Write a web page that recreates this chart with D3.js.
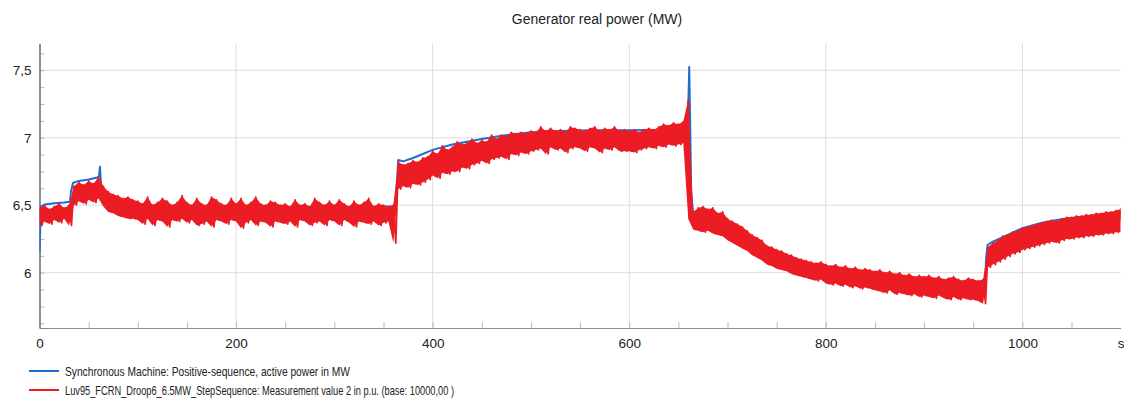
<html>
<head>
<style>
    body { margin: 0; background: #fff; }
    .title { font-family: "Liberation Sans", Arial, sans-serif; font-size: 14px; fill: #222; }
    .axis text { font-family: "Liberation Sans", Arial, sans-serif; font-size: 13.5px; fill: #222; }
    .grid line { stroke: #dcdcdc; stroke-width: 1; }
    .legend text { font-family: "Liberation Sans Narrow", "Arial Narrow", "Liberation Sans", sans-serif; font-size: 13px; fill: #222; }
</style>
</head>
<body>
<svg id="chart" width="1124" height="399"></svg>
<script src="https://d3js.org/d3.v7.min.js"></script>
<script>
// ---- data ----
// blue: Synchronous Machine active power (MW)
const blueTime  = [0, 1.5, 5, 15, 25, 31, 32, 34, 40, 50, 59, 60.5, 61.5, 62.5, 65, 70, 80, 90, 100, 150, 200, 250, 300, 350, 361,
                   363, 365, 370, 380, 400, 420, 435, 450, 470, 500, 530, 560, 600, 640, 659, 660, 661, 662, 663, 665, 670,
                   700, 750, 800, 850, 900, 960, 962, 963, 964.5, 970, 985, 1000, 1020, 1035, 1050, 1070, 1100]
const blueValue = [6.15, 6.49, 6.505, 6.515, 6.52, 6.525, 6.6, 6.665, 6.68, 6.69, 6.705, 6.715, 6.785, 6.66, 6.6, 6.57, 6.53, 6.51, 6.5, 6.49, 6.49, 6.485, 6.485, 6.49, 6.49,
                   6.6, 6.835, 6.825, 6.85, 6.91, 6.95, 6.97, 6.99, 7.015, 7.04, 7.05, 7.055, 7.055, 7.06, 7.07, 7.2, 7.525, 7.1, 6.6, 6.44, 6.43,
                   6.33, 6.15, 6.03, 5.97, 5.93, 5.9, 5.88, 6.1, 6.205, 6.23, 6.28, 6.33, 6.37, 6.39, 6.405, 6.42, 6.44]

// red: measurement value 2, noisy -> per 5 s bin: high and low of the trace
const redBinStep = 5
const redHigh = [
    6.48, 6.50, 6.47, 6.49, 6.51, 6.48, 6.50, 6.64, 6.67, 6.65,
    6.68, 6.66, 6.71, 6.64, 6.60, 6.58, 6.57, 6.55, 6.56, 6.54,
    6.53, 6.51, 6.56, 6.50, 6.52, 6.55, 6.53, 6.50, 6.52, 6.57,
    6.52, 6.50, 6.55, 6.51, 6.50, 6.56, 6.54, 6.51, 6.50, 6.55,
    6.51, 6.55, 6.50, 6.52, 6.56, 6.51, 6.50, 6.53, 6.52, 6.50,
    6.51, 6.49, 6.54, 6.50, 6.51, 6.49, 6.55, 6.52, 6.50, 6.53,
    6.50, 6.54, 6.51, 6.49, 6.53, 6.50, 6.52, 6.55, 6.49, 6.51,
    6.50, 6.49, 6.50, 6.82, 6.80, 6.81, 6.83, 6.82, 6.85, 6.86,
    6.90, 6.88, 6.94, 6.91, 6.93, 6.97, 6.95, 6.96, 6.99, 6.96,
    6.98, 6.97, 7.02, 6.99, 7.02, 7.01, 7.04, 7.03, 7.04, 7.03,
    7.05, 7.04, 7.08, 7.05, 7.07, 7.05, 7.06, 7.04, 7.08, 7.07,
    7.06, 7.05, 7.07, 7.08, 7.05, 7.07, 7.06, 7.08, 7.05, 7.06,
    7.05, 7.06, 7.04, 7.06, 7.07, 7.06, 7.08, 7.10, 7.09, 7.11,
    7.10, 7.12, 7.28, 6.45, 6.48, 6.49, 6.47, 6.48, 6.44, 6.45,
    6.40, 6.38, 6.36, 6.34, 6.31, 6.28, 6.26, 6.24, 6.20, 6.19,
    6.17, 6.16, 6.14, 6.13, 6.11, 6.10, 6.09, 6.08, 6.07, 6.08,
    6.06, 6.05, 6.06, 6.04, 6.05, 6.03, 6.04, 6.02, 6.03, 6.02,
    6.01, 6.02, 6.00, 6.01, 5.99, 6.00, 5.98, 5.99, 5.97, 5.98,
    5.97, 5.98, 5.96, 5.97, 5.95, 5.96, 5.97, 5.95, 5.94, 5.96,
    5.95, 5.94, 5.95, 6.19, 6.22, 6.24, 6.27, 6.28, 6.30, 6.31,
    6.33, 6.34, 6.35, 6.36, 6.37, 6.38, 6.39, 6.38, 6.40, 6.41,
    6.41, 6.42, 6.42, 6.43, 6.43, 6.44, 6.44, 6.45, 6.45, 6.46,
    6.47]
const redLow = [
    6.35, 6.38, 6.36, 6.39, 6.37, 6.40, 6.35, 6.50, 6.53, 6.51,
    6.54, 6.52, 6.55, 6.49, 6.45, 6.44, 6.42, 6.41, 6.40, 6.40,
    6.39, 6.36, 6.40, 6.35, 6.39, 6.38, 6.34, 6.39, 6.38, 6.40,
    6.37, 6.39, 6.35, 6.36, 6.38, 6.34, 6.39, 6.38, 6.36, 6.39,
    6.38, 6.33, 6.37, 6.39, 6.35, 6.38, 6.37, 6.34, 6.38, 6.37,
    6.36, 6.38, 6.34, 6.39, 6.38, 6.35, 6.37, 6.38, 6.35, 6.39,
    6.38, 6.35, 6.39, 6.37, 6.34, 6.38, 6.37, 6.36, 6.38, 6.35,
    6.37, 6.38, 6.22, 6.62, 6.64, 6.63, 6.66, 6.65, 6.67, 6.69,
    6.72, 6.70, 6.74, 6.73, 6.75, 6.75, 6.78, 6.77, 6.80, 6.81,
    6.83, 6.81, 6.84, 6.85, 6.86, 6.84, 6.88, 6.87, 6.89, 6.88,
    6.90, 6.91, 6.92, 6.88, 6.93, 6.91, 6.92, 6.89, 6.92, 6.93,
    6.92, 6.90, 6.93, 6.92, 6.89, 6.92, 6.91, 6.93, 6.90, 6.90,
    6.90, 6.89, 6.91, 6.92, 6.93, 6.92, 6.94, 6.93, 6.95, 6.94,
    6.95, 6.96, 6.40, 6.32, 6.31, 6.30, 6.31, 6.29, 6.28, 6.27,
    6.24, 6.22, 6.20, 6.18, 6.16, 6.13, 6.11, 6.09, 6.06, 6.05,
    6.03, 6.02, 6.01, 5.99, 5.98, 5.97, 5.96, 5.95, 5.94, 5.95,
    5.92, 5.91, 5.92, 5.90, 5.91, 5.89, 5.90, 5.88, 5.89, 5.88,
    5.87, 5.86, 5.85, 5.87, 5.84, 5.85, 5.84, 5.83, 5.84, 5.82,
    5.83, 5.82, 5.81, 5.83, 5.81, 5.80, 5.82, 5.80, 5.81, 5.80,
    5.80, 5.79, 5.77, 6.04, 6.06, 6.08, 6.10, 6.12, 6.14, 6.15,
    6.17, 6.18, 6.19, 6.20, 6.21, 6.22, 6.23, 6.22, 6.24, 6.25,
    6.25, 6.26, 6.26, 6.27, 6.27, 6.28, 6.28, 6.29, 6.29, 6.30,
    6.30]

const xTickMajor = [0, 200, 400, 600, 800, 1000, 1100]
const yTickMajor = [6, 6.5, 7, 7.5]
const titleText = "Generator real power (MW)"
const legendNames = ["Synchronous Machine: Positive-sequence, active power in MW",
                     "Luv95_FCRN_Droop6_6.5MW_StepSequence: Measurement value 2 in p.u. (base: 10000,00 )"]
const seriesColors = ["#1d6dcf", "#ec1c24"]

// ---- layout ----
let plotLeft = 39.5, plotRight = 1120.7, plotTop = 43.3, plotBottom = 328

let svg = d3.select("#chart")

let xScale = d3.scaleLinear().domain([0, 1100]).range([plotLeft, plotRight])
let yScale = d3.scaleLinear().domain([5.59, 7.7]).range([plotBottom, plotTop])

svg.append("text")
    .attr("class", "title")
    .attr("x", 597)
    .attr("y", 24)
    .attr("text-anchor", "middle")
    .text(titleText)

// gridlines
let grid = svg.append("g").attr("class", "grid")
grid.selectAll(".gx")
    .data(xTickMajor.filter(d => d > 0 && d < 1100))
    .enter().append("line")
    .attr("x1", d => xScale(d)).attr("x2", d => xScale(d))
    .attr("y1", plotTop).attr("y2", plotBottom)
grid.selectAll(".gy")
    .data(yTickMajor)
    .enter().append("line")
    .attr("x1", plotLeft).attr("x2", plotRight)
    .attr("y1", d => yScale(d)).attr("y2", d => yScale(d))

// minor ticks (inside the plot)
let xAxis = svg.append("g")
    .attr("class", "axis")
    .attr("transform", "translate(0," + plotBottom + ")")
    .call(d3.axisTop(xScale).tickValues(d3.range(50, 1100, 50)).tickSize(6).tickFormat(""))
xAxis.selectAll("line").attr("stroke", "#bbb")
xAxis.select(".domain").remove()

let xLabels = svg.append("g")
    .attr("class", "axis")
    .attr("transform", "translate(0," + plotBottom + ")")
    .call(d3.axisBottom(xScale).tickValues(xTickMajor).tickSize(0).tickPadding(10)
        .tickFormat(d => d == 1100 ? "s" : d))
xLabels.select(".domain").attr("stroke", "#8c8c8c")

let yAxis = svg.append("g")
    .attr("class", "axis")
    .attr("transform", "translate(" + plotLeft + ",0)")
    .call(d3.axisRight(yScale).tickValues(d3.range(5.625, 7.7, 0.125)).tickSize(5).tickFormat(""))
yAxis.selectAll("line").attr("stroke", "#bbb")
yAxis.select(".domain").remove()

let yLabels = svg.append("g")
    .attr("class", "axis")
    .attr("transform", "translate(" + plotLeft + ",0)")
    .call(d3.axisLeft(yScale).tickValues(yTickMajor).tickSize(0).tickPadding(8)
        .tickFormat(d => String(d).replace(".", ",")))
yLabels.select(".domain").attr("stroke", "#555").attr("stroke-width", 1.3)

// clip
svg.append("clipPath").attr("id", "plotclip")
    .append("rect").attr("x", plotLeft).attr("y", plotTop).attr("width", plotRight - plotLeft).attr("height", plotBottom - plotTop)

let plot = svg.append("g").attr("clip-path", "url(#plotclip)")

// blue line
let bluePts = blueTime.map((t, i) => [t, blueValue[i]])
plot.append("path")
    .datum(bluePts)
    .attr("fill", "none")
    .attr("stroke", seriesColors[0])
    .attr("stroke-width", 2)
    .attr("stroke-linejoin", "round")
    .attr("d", d3.line().x(d => xScale(d[0])).y(d => yScale(d[1])))

// red noisy trace: filled band between bin low/high ...
plot.append("path")
    .datum(redHigh.map((h, i) => [i * redBinStep, redLow[i], h]))
    .attr("fill", seriesColors[1])
    .attr("d", d3.area().x(d => xScale(d[0])).y0(d => yScale(d[1])).y1(d => yScale(d[2])))

// ... plus the trace itself zig-zagging between the high and the low of each bin
let redPts = []
redHigh.forEach((h, i) => {
    redPts.push([i * redBinStep, h])
    redPts.push([i * redBinStep + redBinStep / 2, redLow[i]])
})
plot.append("path")
    .datum(redPts)
    .attr("fill", "none")
    .attr("stroke", seriesColors[1])
    .attr("stroke-width", 1.8)
    .attr("stroke-linejoin", "round")
    .attr("d", d3.line().x(d => xScale(d[0])).y(d => yScale(d[1])))

// legend
let legend = svg.append("g").attr("class", "legend")
let legendY = [371, 390]
let legendW = [285, 389]
legendNames.forEach((name, i) => {
    legend.append("line")
        .attr("x1", 29).attr("x2", 59)
        .attr("y1", legendY[i]).attr("y2", legendY[i])
        .attr("stroke", seriesColors[i]).attr("stroke-width", 2)
    legend.append("text")
        .attr("x", 65).attr("y", legendY[i] + 4.5)
        .attr("textLength", legendW[i])
        .attr("lengthAdjust", "spacingAndGlyphs")
        .text(name)
})
</script>
</body>
</html>
